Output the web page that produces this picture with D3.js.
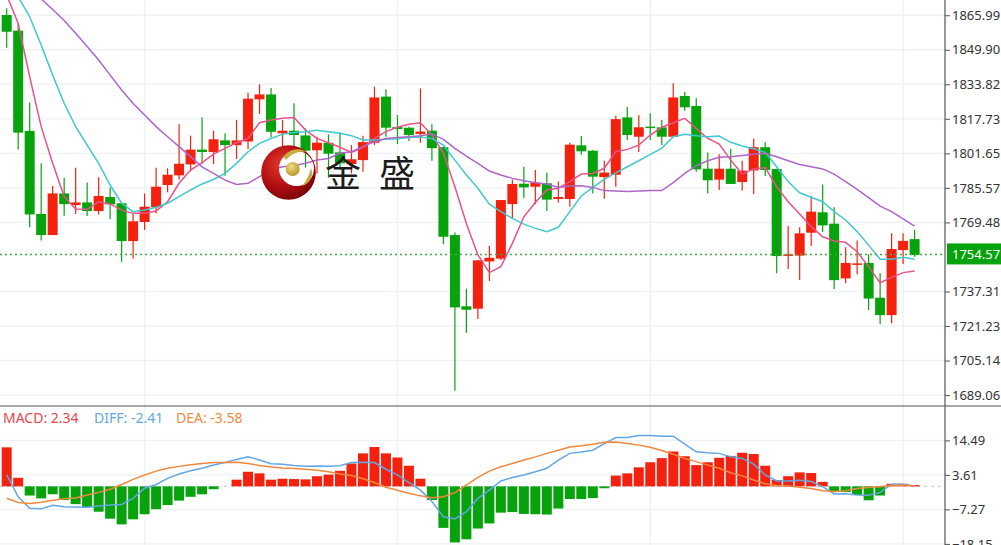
<!DOCTYPE html>
<html><head><meta charset="utf-8">
<script src="https://cdnjs.cloudflare.com/ajax/libs/d3/7.8.5/d3.min.js"></script>
<style>html,body{margin:0;padding:0;background:#fff;overflow:hidden}svg{display:block}text{font-family:"Noto Sans",sans-serif}</style>
</head><body><div id="chart"></div>
<script>
const openP=[1866.1,1858.8,1812.1,1773.4,1763.6,1783.0,1777.6,1778.8,1774.8,1781.3,1778.4,1760.8,1769.7,1776.5,1786.9,1791.4,1796.5,1803.4,1802.3,1807.7,1805.5,1807.2,1826.8,1829.1,1811.0,1812.2,1810.0,1803.1,1806.6,1802.1,1796.7,1798.5,1806.6,1828.1,1813.9,1813.6,1810.7,1812.2,1804.5,1763.6,1730.4,1729.3,1751.3,1752.6,1778.0,1787.5,1786.1,1787.7,1780.4,1780.4,1805.4,1802.9,1790.6,1791.7,1818.4,1809.4,1814.1,1813.8,1809.4,1828.4,1823.7,1794.5,1789.4,1794.5,1788.3,1793.7,1804.5,1794.4,1754.1,1754.0,1764.7,1774.2,1768.9,1743.4,1750.0,1750.6,1734.4,1726.3,1756.6,1761.7];
const highP=[1869.2,1862.2,1825.3,1797.0,1786.4,1790.3,1795.0,1788.1,1790.5,1785.8,1778.4,1773.7,1783.0,1795.0,1794.7,1815.2,1809.9,1818.4,1812.2,1811.0,1817.2,1829.9,1833.8,1832.1,1817.2,1825.0,1813.3,1809.4,1810.5,1811.4,1805.5,1809.9,1832.7,1831.5,1819.5,1814.1,1831.9,1815.2,1804.8,1764.8,1738.6,1752.0,1758.5,1779.9,1789.5,1795.4,1793.9,1792.6,1788.5,1806.6,1809.7,1803.2,1798.2,1819.2,1823.4,1819.4,1820.3,1817.2,1834.3,1830.2,1827.3,1802.1,1801.2,1803.8,1798.2,1808.6,1806.8,1794.5,1767.8,1767.2,1781.8,1787.2,1776.5,1757.9,1761.0,1754.6,1745.8,1764.4,1764.4,1765.9];
const lowP=[1850.9,1803.5,1767.2,1761.0,1763.6,1772.6,1773.4,1772.5,1773.2,1770.9,1751.2,1752.7,1765.9,1773.7,1783.5,1789.5,1793.3,1796.7,1796.7,1791.2,1799.0,1803.7,1820.0,1809.1,1804.8,1804.8,1795.0,1792.3,1790.3,1793.9,1792.3,1793.1,1805.5,1809.4,1806.0,1807.4,1806.6,1798.2,1759.3,1691.1,1718.1,1724.5,1742.2,1752.0,1771.4,1780.8,1777.9,1774.8,1778.8,1776.8,1801.0,1783.0,1780.5,1786.1,1807.9,1802.3,1807.9,1805.5,1809.4,1821.5,1793.1,1783.0,1784.6,1787.4,1784.3,1782.7,1791.1,1745.8,1747.8,1742.6,1758.5,1765.0,1738.5,1741.1,1745.3,1728.7,1722.1,1722.5,1750.1,1753.5];
const closeP=[1858.3,1811.3,1773.2,1763.6,1783.0,1778.0,1778.8,1774.8,1781.8,1777.9,1760.8,1770.0,1776.8,1786.1,1791.7,1796.8,1803.4,1802.3,1808.2,1805.5,1807.7,1827.1,1829.1,1811.7,1812.2,1810.2,1802.9,1806.6,1801.5,1797.0,1798.9,1806.9,1827.7,1813.6,1813.0,1810.2,1811.8,1804.1,1762.8,1729.9,1728.8,1751.8,1753.0,1779.9,1787.4,1785.8,1788.0,1780.1,1781.3,1805.7,1802.6,1790.8,1792.7,1817.6,1810.2,1813.8,1813.5,1809.4,1827.7,1823.1,1794.2,1789.1,1794.5,1787.4,1793.6,1804.5,1793.9,1753.8,1754.6,1764.4,1774.5,1768.1,1742.6,1750.6,1750.4,1734.0,1726.3,1757.1,1760.9,1754.3];
const ma5=[1875.4,1862.2,1837.4,1814.1,1797.0,1781.5,1775.7,1775.6,1779.1,1778.1,1775.2,1773.7,1773.7,1774.8,1779.1,1787.7,1793.9,1797.3,1801.3,1804.0,1806.6,1808.6,1815.9,1817.2,1818.0,1818.4,1812.5,1808.6,1806.6,1804.5,1802.1,1804.5,1808.6,1811.8,1813.8,1815.2,1815.9,1810.2,1801.7,1786.1,1769.0,1754.3,1746.1,1748.9,1759.7,1772.1,1778.8,1784.6,1785.4,1788.5,1792.0,1792.3,1794.7,1802.4,1803.5,1805.5,1810.2,1813.8,1815.9,1818.0,1813.3,1808.6,1806.0,1798.5,1792.0,1794.4,1795.0,1786.1,1779.1,1773.4,1767.5,1762.8,1760.8,1760.2,1755.8,1748.9,1741.4,1743.9,1746.1,1746.8];
const ma10=[1884.0,1874.6,1865.3,1852.1,1838.1,1825.0,1814.1,1805.5,1797.0,1786.9,1778.4,1774.5,1775.3,1776.5,1778.4,1781.5,1784.6,1787.4,1789.5,1792.3,1797.0,1802.4,1806.3,1808.6,1810.6,1811.4,1811.7,1812.4,1811.7,1811.0,1809.9,1807.9,1807.9,1808.2,1808.5,1809.0,1809.3,1808.6,1805.5,1798.5,1791.6,1785.4,1778.0,1774.5,1771.4,1768.7,1766.7,1765.2,1767.2,1774.5,1781.8,1785.8,1789.5,1792.6,1795.4,1798.2,1801.2,1804.0,1809.4,1810.5,1809.9,1809.4,1809.7,1806.8,1805.1,1803.8,1802.1,1795.4,1788.5,1783.3,1781.2,1779.1,1774.5,1770.6,1765.2,1758.9,1752.3,1752.3,1753.2,1752.3];
const ma20=[1887.1,1882.4,1877.8,1873.6,1868.7,1863.5,1857.6,1851.4,1845.1,1838.1,1831.2,1824.9,1819.5,1814.1,1809.4,1804.8,1800.1,1795.4,1792.3,1789.2,1787.2,1787.7,1790.8,1793.9,1795.4,1795.9,1797.0,1798.6,1799.3,1801.7,1802.4,1804.8,1807.1,1808.6,1809.0,1809.4,1809.9,1810.7,1808.2,1804.0,1800.4,1797.0,1793.4,1791.6,1790.0,1788.9,1788.0,1787.4,1785.8,1786.4,1786.6,1785.8,1784.3,1784.1,1783.9,1784.1,1784.3,1784.3,1788.0,1792.3,1795.9,1798.2,1799.8,1800.1,1800.6,1801.2,1801.7,1800.1,1798.2,1796.5,1795.4,1794.4,1792.0,1788.5,1784.9,1781.0,1777.1,1774.5,1771.1,1767.8];
const macdHist=[12.3,2.7,-2.9,-3.8,-2.5,-4.3,-5.6,-6.6,-8.0,-10.2,-12.0,-10.4,-8.8,-7.2,-5.9,-4.5,-3.3,-2.5,-0.9,-0.1,2.1,4.6,4.1,2.1,2.4,2.3,2.2,3.2,3.7,4.9,7.2,10.4,12.4,10.4,9.1,6.5,2.4,-4.3,-13.1,-17.7,-16.7,-13.3,-11.7,-8.3,-8.1,-8.7,-8.8,-8.9,-7.0,-4.0,-4.0,-3.7,-0.6,3.4,4.1,6.0,7.6,8.9,11.0,9.5,6.7,7.6,9.0,9.6,10.6,10.2,6.5,2.0,3.2,4.4,4.2,1.4,-1.8,-1.8,-2.7,-4.4,-2.9,0.8,0.8,0.4];
const diffLine=[3.6,-3.3,-6.9,-7.1,-6.0,-6.4,-6.5,-6.6,-6.2,-5.9,-5.7,-3.8,-0.6,0.6,2.5,3.9,4.9,5.7,6.7,7.5,8.5,9.3,8.3,7.1,7.0,6.6,6.3,6.4,6.3,6.5,7.5,7.6,7.5,5.4,3.6,1.2,-1.2,-4.8,-9.6,-10.3,-8.0,-3.8,-1.2,1.7,2.8,3.6,4.6,5.7,8.3,10.4,10.8,11.4,13.5,15.4,15.4,16.0,16.0,15.8,15.8,13.3,10.9,10.6,10.4,9.3,8.8,7.0,3.6,1.7,1.7,1.9,1.5,-0.1,-2.4,-2.3,-2.7,-2.8,-1.9,0.7,0.7,0.1];
const deaLine=[-3.8,-5.1,-5.4,-5.0,-4.4,-3.9,-3.7,-2.7,-1.9,-0.9,0.6,2.2,3.6,4.8,5.7,6.3,6.8,7.2,7.5,7.5,7.6,7.2,6.6,6.1,5.8,5.6,5.4,5.1,4.6,3.9,3.4,2.4,1.2,-0.3,-1.2,-2.2,-3.0,-3.6,-3.3,-2.0,0.4,2.8,4.8,6.2,7.2,8.3,9.3,10.4,11.4,12.4,12.8,13.3,13.9,14.0,13.5,13.0,12.3,11.3,10.1,8.8,7.8,6.7,5.7,4.3,3.3,2.0,0.8,0.3,0.1,-0.3,-0.7,-1.4,-1.6,-1.4,-0.7,-0.4,-0.1,0.3,0.4,0.1];
const priceTicks=[1865.99,1849.90,1833.82,1817.73,1801.65,1785.57,1769.48,1737.31,1721.23,1705.14,1689.06];
const lastPrice=1754.57;
const macdTicks=[14.49,3.61,-7.27,-18.15];
const verticalGridIdx=[12,34,56,78];
const legendItems=[["MACD: 2.34","#e4474c"],["DIFF: -2.41","#64a6e2"],["DEA: -3.58","#ef8b45"]];

const W=1001,H=545,axisX=945,sepY=406;
const RED="#f4210f",GREEN="#07a30d",GRID="#eef1f5";
const svg=d3.select("#chart").append("svg").attr("width",W).attr("height",H);
const defs=svg.append("defs");
defs.append("clipPath").attr("id","mainClip").append("rect").attr("width",axisX).attr("height",sepY);
defs.append("clipPath").attr("id","subClip").append("rect").attr("y",sepY).attr("width",axisX).attr("height",H-sepY);
const rg=defs.append("radialGradient").attr("id","ball").attr("cx","38%").attr("cy","35%").attr("r","75%");
rg.append("stop").attr("offset","0%").attr("stop-color","#e63a2c");
rg.append("stop").attr("offset","55%").attr("stop-color","#b00d12");
rg.append("stop").attr("offset","100%").attr("stop-color","#6d0408");
const rg2=defs.append("radialGradient").attr("id","gold").attr("cx","40%").attr("cy","35%").attr("r","70%");
rg2.append("stop").attr("offset","0%").attr("stop-color","#eedd80");
rg2.append("stop").attr("offset","100%").attr("stop-color","#b39320");

const x=d3.scaleLinear().domain([0,79]).range([6.7,914.6]);
const y=d3.scaleLinear().domain([1865.99,1689.06]).range([15.24,395.06]);
const ym=d3.scaleLinear().domain([14.49,-18.15]).range([440.4,543.9]);
const idx=d3.range(closeP.length);

// grid
const grid=svg.append("g").attr("stroke",GRID).attr("stroke-width",1.4);
grid.selectAll("line.h").data(priceTicks).join("line")
 .attr("x1",0).attr("x2",axisX).attr("y1",d=>y(d)).attr("y2",d=>y(d));
grid.append("g").selectAll("line").data(macdTicks).join("line")
 .attr("x1",0).attr("x2",axisX).attr("y1",d=>ym(d)).attr("y2",d=>ym(d));
grid.append("g").selectAll("line").data(verticalGridIdx).join("line")
 .attr("x1",d=>x(d)).attr("x2",d=>x(d)).attr("y1",0).attr("y2",H);

// candles
const main=svg.append("g").attr("clip-path","url(#mainClip)");
const col=i=>closeP[i]>=openP[i]?RED:GREEN;
main.append("g").selectAll("line").data(idx).join("line")
 .attr("x1",i=>x(i)).attr("x2",i=>x(i)).attr("y1",i=>y(highP[i])).attr("y2",i=>y(lowP[i]))
 .attr("stroke",col).attr("stroke-width",1.2);
main.append("g").selectAll("rect").data(idx).join("rect")
 .attr("x",i=>x(i)-5).attr("width",10)
 .attr("y",i=>y(Math.max(openP[i],closeP[i])))
 .attr("height",i=>Math.max(1.5,Math.abs(y(openP[i])-y(closeP[i]))))
 .attr("fill",col);

// logo + wordmark
const logo=svg.append("g");
const arc=(cx,cy,r)=>`M${cx-r},${cy}A${r},${r} 0 1,0 ${cx+r},${cy}A${r},${r} 0 1,0 ${cx-r},${cy}Z`;
logo.append("path").attr("d",arc(288.5,172.5,27.3)+arc(296.5,168.5,17.5)).attr("fill-rule","evenodd").attr("fill","url(#ball)");
logo.append("circle").attr("cx",292.7).attr("cy",169).attr("r",7).attr("fill","url(#gold)");
logo.append("path").attr("d","M283,157C289,149 300,147 306,152C299,151 292,153 286,160C285,158 284,158 283,157Z").attr("fill","#c9ab3e");
logo.append("path").attr("d","M311,168C314,175 311,183 302,186C307,180 309,175 311,168Z").attr("fill","#c9ab3e");
svg.append("text").attr("x",325).attr("y",187).attr("font-size",36).style("font-family",'"Noto Sans CJK SC"').style("word-spacing","10px").attr("fill","#1c1c1c").text("金 盛");

// MA lines
const lineP=d3.line().x((d,i)=>x(i)).y(d=>y(d));
[[ma5,"#e8528c"],[ma10,"#40c8d0"],[ma20,"#b064c8"]].forEach(([s,c])=>{
 main.append("path").attr("d",lineP(s)).attr("fill","none").attr("stroke",c).attr("stroke-width",1.5);
});

// last price line
svg.append("line").attr("x1",0).attr("x2",axisX).attr("y1",y(lastPrice)).attr("y2",y(lastPrice))
 .attr("stroke","#3dae45").attr("stroke-width",1.4).attr("stroke-dasharray","2 3");

// MACD pane
const sub=svg.append("g").attr("clip-path","url(#subClip)");
sub.append("line").attr("x1",0).attr("x2",axisX).attr("y1",ym(0)).attr("y2",ym(0))
 .attr("stroke","#b5cde6").attr("stroke-width",1).attr("stroke-dasharray","3 4");
sub.append("g").selectAll("rect").data(idx.filter(i=>Math.abs(macdHist[i])>0.15)).join("rect")
 .attr("x",i=>x(i)-5).attr("width",10)
 .attr("y",i=>ym(Math.max(0,macdHist[i])))
 .attr("height",i=>Math.abs(ym(macdHist[i])-ym(0)))
 .attr("fill",i=>macdHist[i]>=0?RED:GREEN);
const lineM=d3.line().x((d,i)=>x(i)).y(d=>ym(d));
sub.append("path").attr("d",lineM(diffLine)).attr("fill","none").attr("stroke","#62a6e6").attr("stroke-width",1.5);
sub.append("path").attr("d",lineM(deaLine)).attr("fill","none").attr("stroke","#f0883c").attr("stroke-width",1.5);

// legend
const legX=[3,94,176];
svg.append("g").selectAll("text").data(legendItems).join("text")
 .attr("x",(d,i)=>legX[i]).attr("y",423).attr("font-size",14).attr("fill",d=>d[1]).text(d=>d[0]);

// frame lines
svg.append("line").attr("x1",0).attr("x2",W).attr("y1",sepY).attr("y2",sepY).attr("stroke","#555").attr("stroke-width",1.2);
svg.append("line").attr("x1",axisX).attr("x2",axisX).attr("y1",0).attr("y2",H).attr("stroke","#555").attr("stroke-width",1.2);

// axes
function styleAxis(g){g.select(".domain").remove();g.selectAll(".tick line").attr("stroke","#555");g.selectAll("text").attr("font-size",13).attr("fill","#333").attr("font-family",null);}
svg.append("g").attr("transform",`translate(${axisX},0)`)
 .call(d3.axisRight(y).tickValues(priceTicks).tickFormat(d3.format(".2f")).tickSize(5).tickPadding(2)).call(styleAxis);
svg.append("g").attr("transform",`translate(${axisX},0)`)
 .call(d3.axisRight(ym).tickValues(macdTicks).tickFormat(d3.format(".2f")).tickSize(5).tickPadding(2)).call(styleAxis);

// last price tag
svg.append("rect").attr("x",947).attr("y",y(lastPrice)-11).attr("width",54).attr("height",21).attr("fill",GREEN);
svg.append("text").attr("x",952).attr("y",y(lastPrice)+5).attr("font-size",13).attr("fill","#fff").text(d3.format(".2f")(lastPrice));
</script></body></html>
